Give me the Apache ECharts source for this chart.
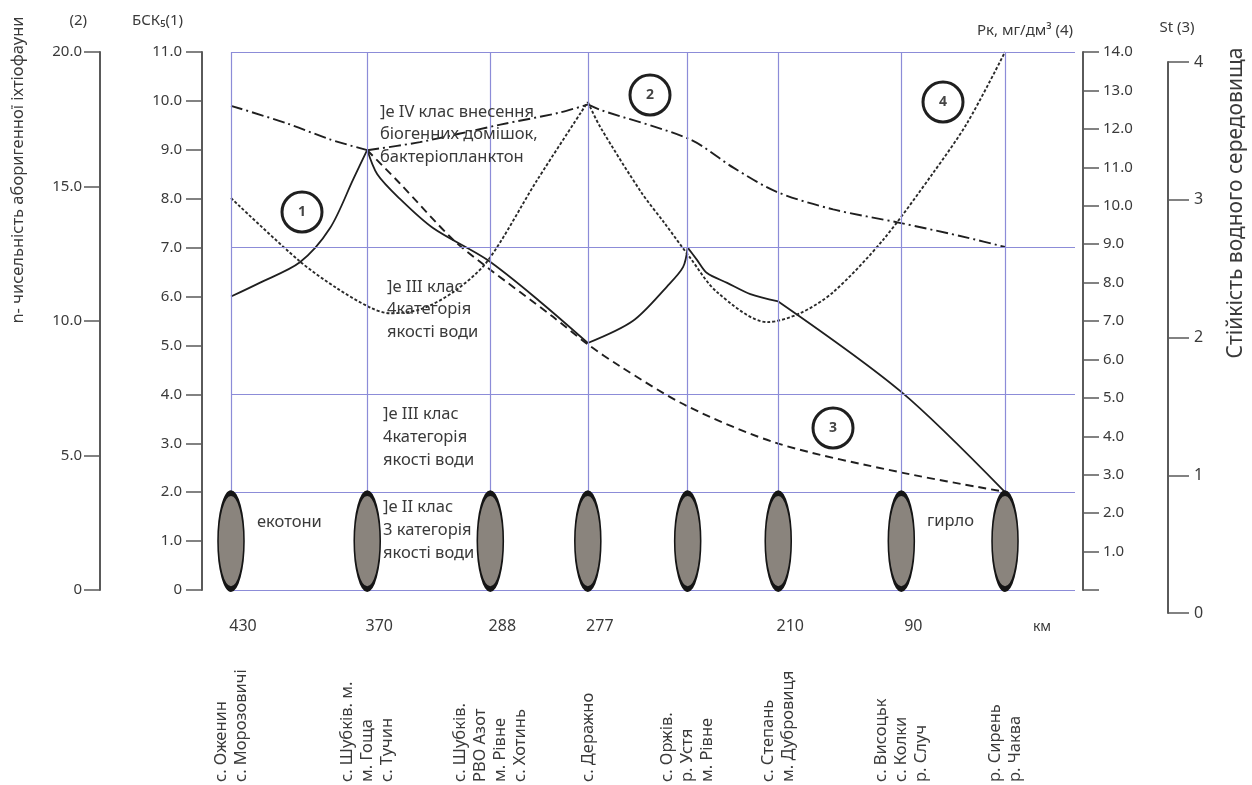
<!DOCTYPE html>
<html><head><meta charset="utf-8">
<script src="https://cdn.jsdelivr.net/npm/echarts@6/dist/echarts.min.js"></script>
<style>html,body{margin:0;padding:0;background:#fff}#c{width:1252px;height:785px}</style>
</head><body><div id="c"></div>
<script>
// ---------- data ----------
const stations = [
  ['с. Оженин', 'с. Морозовичі'],
  ['с. Шубків. м.', 'м. Гоща', 'с. Тучин'],
  ['с. Шубків.', 'РВО Азот', 'м. Рівне', 'с. Хотинь'],
  ['с. Деражно'],
  ['с. Оржів.', 'р. Устя', 'м. Рівне'],
  ['с. Степань', 'м. Дубровиця'],
  ['с. Висоцьк', 'с. Колки', 'р. Случ'],
  ['р. Сирень', 'р. Чаква']
];
const kmLabels = ['430', '370', '288', '277', '', '210', '90', ''];
const kmUnit = 'км';
const stationX = [0, 1.76, 3.35, 4.61, 5.9, 7.07, 8.66, 10];
const classBounds = [0, 2, 4, 7, 11];      // БСК5 class boundaries
const ecotoneLevel = 1.0;                 // ecotone marks (БСК5 scale)

// (1) БСК5, solid
const bsk = [[0,6.0],[0.37,6.28],[0.89,6.7],[1.28,7.4],[1.58,8.4],[1.76,9.0],
  [1.89,8.5],[2.18,8.0],[2.61,7.4],[3.31,6.75],[3.99,5.9],[4.61,5.05],
  [5.19,5.5],[5.63,6.2],[5.84,6.6],[5.9,7.0],
  [6.02,6.75],[6.15,6.48],[6.41,6.28],[6.71,6.05],[7.07,5.9],[8.66,4.05],[10,2.0]];
const bskBreaks = [1.76, 4.61, 5.9, 7.07];
// (2) n - ichthyofauna, dash-dot
const ichthyo = [[0,18.0],[0.72,17.35],[1.28,16.75],[1.76,16.35],[2.44,16.65],[3.48,17.3],
  [4.25,17.75],[4.61,18.05],[4.77,17.85],[5.93,16.75],[6.49,15.7],[7.05,14.8],
  [7.78,14.15],[8.64,13.65],[9.51,13.1],[10,12.75]];
const ichthyoBreaks = [1.76, 4.61];
// (3) St, dashed
const stability = [[1.76,3.36],[2.18,3.12],[2.87,2.71],[3.31,2.51],[4.16,2.15],[4.61,1.95],
  [5.03,1.79],[5.9,1.5],[7.07,1.23],[8.66,1.02],[10,0.88]];
const stabilityBreaks = [];
// (4) Pk, mg/dm3, fine dotted
const pk = [[0,10.2],[0.89,8.55],[1.37,7.85],[1.8,7.35],[2.05,7.2],[2.44,7.3],[2.87,7.75],
  [3.31,8.55],[3.95,10.65],[4.61,12.7],[4.77,12.05],[5.3,10.35],[5.6,9.55],[5.93,8.65],
  [6.28,7.75],[6.93,6.97],[7.35,7.2],[7.78,7.75],[8.42,9.1],[9.07,10.85],[9.51,12.15],[10,14.0]];
const pkBreaks = [4.61];

// ---------- styling ----------
const FONT = "'Noto Sans', 'DejaVu Sans', sans-serif";
const AX = '#5a5a5a', TXT = '#3a3a3a', GRID = '#8c8cd8', INK = '#1f1f1f';
const X_MAX = 10.904;

function segments(data, breaks) {
  const segs = []; let cur = [];
  data.forEach(p => {
    cur.push(p);
    if (breaks.indexOf(p[0]) >= 0 && cur.length > 1) { segs.push(cur); cur = [p]; }
  });
  if (cur.length > 1) segs.push(cur);
  return segs;
}
function idxOf(v) {
  for (let i = 0; i < stationX.length; i++) if (Math.abs(stationX[i] - v) < 1e-6) return i;
  return -1;
}
function curveSeries(data, breaks, yIdx, lineType, width, color) {
  return segments(data, breaks).map(seg => ({
    type: 'line', xAxisIndex: 0, yAxisIndex: yIdx, data: seg,
    showSymbol: false, symbol: 'none', smooth: 0.3, silent: true, z: 3,
    lineStyle: { color: color || INK, width: width, type: lineType }
  }));
}
function yAx(o) {
  return Object.assign({
    type: 'value', gridIndex: 0, splitLine: { show: false },
    axisLine: { show: true, onZero: false, lineStyle: { color: AX, width: 2 } },
    axisTick: { show: true, length: 16, lineStyle: { color: AX, width: 1.5 } },
    nameLocation: 'end'
  }, o);
}
const lbl = (o) => Object.assign({ color: TXT, fontSize: 15, fontFamily: FONT }, o);

const option = {
  animation: false,
  textStyle: { fontFamily: FONT },
  grid: [
    { left: 231, right: 177, top: 52, bottom: 195, outerBoundsMode: 'none' },
    { left: 1150, right: 84, top: 62, bottom: 172, outerBoundsMode: 'none' }
  ],
  xAxis: [
    { type: 'value', gridIndex: 0, min: 0, max: X_MAX, position: 'bottom',
      axisLine: { show: false }, axisTick: { show: false }, splitLine: { show: false },
      axisLabel: { customValues: stationX, formatter: v => kmLabels[idxOf(v)] || '',
        color: TXT, fontSize: 16, fontFamily: FONT, margin: 28, padding: [0, 0, 0, 24] } },
    { type: 'value', gridIndex: 0, min: 0, max: X_MAX, position: 'bottom',
      axisLine: { show: false }, axisTick: { show: false }, splitLine: { show: false },
      axisLabel: { customValues: stationX,
        formatter: v => { const i = idxOf(v); return i >= 0 ? stations[i].join('\n') : ''; },
        rotate: 90, align: 'left', verticalAlign: 'middle', margin: 192,
        color: TXT, fontSize: 16.5, lineHeight: 20, fontFamily: FONT } },
    { type: 'value', gridIndex: 1, min: 0, max: 1, show: false }
  ],
  yAxis: [
    yAx({ position: 'left', offset: 29, min: 0, max: 11, interval: 1,
      axisLabel: lbl({ margin: 20, formatter: v => v === 0 ? '0' : v.toFixed(1) }),
      name: 'БСК₅(1)', nameGap: 24,
      nameTextStyle: lbl({ align: 'right', padding: [0, 19, 0, 0] }) }),
    yAx({ position: 'left', offset: 131, min: 0, max: 20, interval: 5,
      axisLabel: lbl({ margin: 18, formatter: v => v === 0 ? '0' : v.toFixed(1) }),
      name: '(2)', nameGap: 24,
      nameTextStyle: lbl({ align: 'right', padding: [0, 13, 0, 0] }) }),
    yAx({ position: 'right', offset: 8, min: 0, max: 14, interval: 1,
      axisLabel: lbl({ margin: 20, formatter: v => v === 0 ? '' : v.toFixed(1) }),
      name: 'Рк, мг/дм³ (4)', nameGap: 14,
      nameTextStyle: lbl({ align: 'right', padding: [0, 10, 0, 0] }) }),
    { type: 'value', gridIndex: 0, show: false, min: 0.167, max: 4.073 },
    yAx({ gridIndex: 1, position: 'right', min: 0, max: 4, interval: 1,
      axisTick: { show: true, length: 21, lineStyle: { color: AX, width: 1.5 } },
      axisLabel: lbl({ margin: 26, fontSize: 16 }),
      name: 'St (3)', nameGap: 27,
      nameTextStyle: lbl({ align: 'center', padding: [0, 0, 0, 18] }) })
  ],
  series: [].concat(
    [{ type: 'line', xAxisIndex: 0, yAxisIndex: 0, data: [[0, 0]], showSymbol: false,
       symbol: 'none', lineStyle: { width: 0 }, silent: true, z: 1,
       markLine: { silent: true, symbol: 'none', animation: false, label: { show: false },
         lineStyle: { color: GRID, width: 1.2, type: 'solid', opacity: 1 },
         emphasis: { disabled: true },
         data: stationX.map(x => ({ xAxis: x })).concat(classBounds.map(v => ({ yAxis: v }))) } }],
    curveSeries(bsk, bskBreaks, 0, 'solid', 1.8),
    curveSeries(ichthyo, ichthyoBreaks, 1, [12, 4, 2, 4], 1.9),
    curveSeries(stability, stabilityBreaks, 3, [8, 5], 1.9),
    curveSeries(pk, pkBreaks, 2, [3, 2], 1.9, '#2a2a2a'),
    [{ type: 'scatter', xAxisIndex: 0, yAxisIndex: 0, silent: true, z: 5,
       data: stationX.map(x => [x, ecotoneLevel]), symbol: 'circle', symbolSize: [26, 96],
       itemStyle: { color: '#8a847d', borderColor: '#151515', borderWidth: 3, opacity: 1 } }]
  ),
  graphic: [
    { type: 'text', x: 18, y: 170, rotation: Math.PI / 2, z: 10,
      style: { text: 'n- чисельність аборигенної іхтіофауни', fontSize: 16.5, fontFamily: FONT,
        fill: TXT, align: 'center', verticalAlign: 'middle' } },
    { type: 'text', x: 1236, y: 203, rotation: Math.PI / 2, z: 10,
      style: { text: 'Стійкість водного середовища', fontSize: 21, fontFamily: FONT,
        fill: TXT, align: 'center', verticalAlign: 'middle' } },
    { type: 'text', x: 1042, y: 627, z: 10,
      style: { text: kmUnit, fontSize: 14, fontFamily: FONT, fill: TXT, align: 'center', verticalAlign: 'middle' } },
    { type: 'text', x: 380, y: 101, z: 10,
      style: { text: ']е IV клас внесення\nбіогенних домішок,\nбактеріопланктон', fontSize: 16.5,
        lineHeight: 22.5, fontFamily: FONT, fill: TXT, align: 'left', verticalAlign: 'top' } },
    { type: 'text', x: 387, y: 276, z: 10,
      style: { text: ']е III клас\n4категорія\nякості води', fontSize: 16.5,
        lineHeight: 22.5, fontFamily: FONT, fill: TXT, align: 'left', verticalAlign: 'top' } },
    { type: 'text', x: 383, y: 403, z: 10,
      style: { text: ']е III клас\n4категорія\nякості води', fontSize: 16.5,
        lineHeight: 23, fontFamily: FONT, fill: TXT, align: 'left', verticalAlign: 'top' } },
    { type: 'text', x: 383, y: 496, z: 10,
      style: { text: ']е II клас\n3 категорія\nякості води', fontSize: 16.5,
        lineHeight: 23, fontFamily: FONT, fill: TXT, align: 'left', verticalAlign: 'top' } },
    { type: 'text', x: 257, y: 522, z: 10,
      style: { text: 'екотони', fontSize: 16.5, fontFamily: FONT, fill: TXT, align: 'left', verticalAlign: 'middle' } },
    { type: 'text', x: 927, y: 521, z: 10,
      style: { text: 'гирло', fontSize: 16.5, fontFamily: FONT, fill: TXT, align: 'left', verticalAlign: 'middle' } }
  ].concat([['1', 302, 212], ['2', 650, 95], ['3', 833, 428], ['4', 943, 102]].reduce((acc, c) => acc.concat([
    { type: 'circle', z: 10, shape: { cx: c[1], cy: c[2], r: 20 }, style: { fill: 'rgba(0,0,0,0)', stroke: INK, lineWidth: 3 } },
    { type: 'text', z: 11, x: c[1], y: c[2], style: { text: c[0], fontSize: 14, fontWeight: 'bold', fontFamily: FONT, fill: '#444', align: 'center', verticalAlign: 'middle' } }
  ]), []))
};
const chart = echarts.init(document.getElementById('c'));
chart.setOption(option);
</script>
</body></html>
